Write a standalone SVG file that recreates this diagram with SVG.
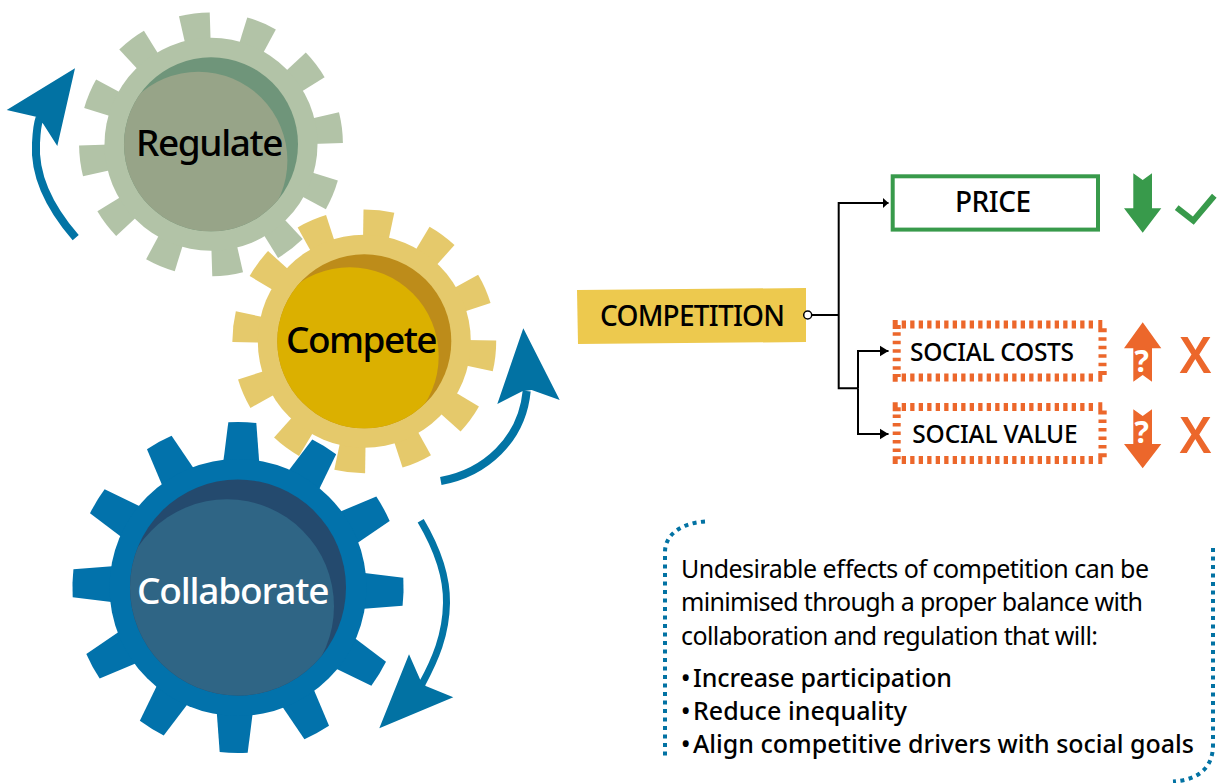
<svg xmlns="http://www.w3.org/2000/svg" xmlns:xlink="http://www.w3.org/1999/xlink" width="1217" height="783" viewBox="0 0 1217 783">
<style>
text{font-family:"Noto Sans","Open Sans","Liberation Sans",sans-serif;font-weight:500;fill:#000}
.g{font-size:37px}
.box{font-size:28px}
.soc{font-size:24.5px}
.p{font-size:25px;font-weight:400}
.b{font-size:25px;font-weight:500}
.arr{fill:none;stroke:#0274a5;stroke-width:8}
.head{fill:#0272a3}
.c{fill:none;stroke:#000;stroke-width:2}
.o{fill:#ec672b}
.dh{fill:none;stroke:#ec672b;stroke-width:8;stroke-dasharray:4.3 4.2}
.dv{fill:none;stroke:#ec672b;stroke-width:8;stroke-dasharray:3.4 5.1}
.q{font-size:30px;font-weight:700;fill:#fff}
.x{font-size:50px;font-weight:600;fill:#ec672b}
.dot{fill:none;stroke:#0272a3;stroke-width:4;stroke-dasharray:4 4.5}
</style>
<defs>
<path id="t1" d="M-12.5,-100 L-15.5,-131 A132 132 0 0 1 15.5,-131 L12.5,-100Z"/>
<path id="t2" d="M-18.5,-120 L-14,-165 A166 166 0 0 1 14,-165 L18.5,-120Z"/>
<g id="teeth1">
<use xlink:href="#t1"/><use xlink:href="#t1" transform="rotate(30)"/><use xlink:href="#t1" transform="rotate(60)"/><use xlink:href="#t1" transform="rotate(90)"/><use xlink:href="#t1" transform="rotate(120)"/><use xlink:href="#t1" transform="rotate(150)"/><use xlink:href="#t1" transform="rotate(180)"/><use xlink:href="#t1" transform="rotate(210)"/><use xlink:href="#t1" transform="rotate(240)"/><use xlink:href="#t1" transform="rotate(270)"/><use xlink:href="#t1" transform="rotate(300)"/><use xlink:href="#t1" transform="rotate(330)"/>
</g>
<g id="teeth2">
<use xlink:href="#t2"/><use xlink:href="#t2" transform="rotate(30)"/><use xlink:href="#t2" transform="rotate(60)"/><use xlink:href="#t2" transform="rotate(90)"/><use xlink:href="#t2" transform="rotate(120)"/><use xlink:href="#t2" transform="rotate(150)"/><use xlink:href="#t2" transform="rotate(180)"/><use xlink:href="#t2" transform="rotate(210)"/><use xlink:href="#t2" transform="rotate(240)"/><use xlink:href="#t2" transform="rotate(270)"/><use xlink:href="#t2" transform="rotate(300)"/><use xlink:href="#t2" transform="rotate(330)"/>
</g>
<g id="socbox">
<path class="dh" d="M901.7,324.6 H1097"/>
<path class="dh" d="M901.7,377.6 H1097"/>
<path class="dv" d="M896.7,332.3 V372"/>
<path class="dv" d="M1102.5,337.3 V368"/>
<path class="o" d="M892.7,320 h5 v5 h3 v4 h-8z"/>
<path class="o" d="M892.7,374 h8 v3 h-3 v4.7 h-5z"/>
<path class="o" d="M1098.3,320 h4 v8.3 h4.4 v4 h-8.4z"/>
<path class="o" d="M1098.3,371 h8.4 v4 h-4.4 v6.7 h-4z"/>
</g>
<clipPath id="cr"><circle cx="211" cy="144.3" r="87"/></clipPath>
<clipPath id="cc"><circle cx="364.3" cy="341.3" r="87"/></clipPath>
<clipPath id="cb"><circle cx="238" cy="587.5" r="108"/></clipPath>
<marker id="ah" markerUnits="userSpaceOnUse" markerWidth="7" markerHeight="12" refX="6" refY="6" orient="auto"><path d="M0,0.5 L6,6 L0,11.5Z" fill="#000"/></marker>
<marker id="ah2" markerUnits="userSpaceOnUse" markerWidth="10" markerHeight="12" refX="9" refY="6" orient="auto"><path d="M0,0.5 L9,6 L0,11.5Z" fill="#000"/></marker>
</defs>

<g id="regulate">
<g fill="#b2c3a7"><use xlink:href="#teeth1" transform="translate(211 144.3) rotate(-7.3)"/><circle cx="211" cy="144.3" r="106.5"/></g>
<circle cx="211" cy="144.3" r="87" fill="#6f957a"/>
<circle cx="198.4" cy="160.7" r="89" fill="#97a488" clip-path="url(#cr)"/>
<text class="g" x="136" y="156" textLength="147.5">Regulate</text>
</g>

<g id="compete">
<g fill="#e5c96b"><use xlink:href="#teeth1" transform="translate(364.3 341.3) rotate(6.4)"/><circle cx="364.3" cy="341.3" r="106.5"/></g>
<circle cx="364.3" cy="341.3" r="87" fill="#bd8c1a"/>
<circle cx="349.7" cy="356.3" r="89" fill="#dbb000" clip-path="url(#cc)"/>
<text class="g" x="286" y="353.3" textLength="151.5">Compete</text>
</g>

<g id="collaborate">
<g fill="#0272ab"><use xlink:href="#teeth2" transform="translate(238 587.5) rotate(1.5)"/><circle cx="238" cy="587.5" r="128.5"/></g>
<circle cx="238" cy="587.5" r="108" fill="#244a6e"/>
<circle cx="227" cy="606.3" r="107" fill="#2f6585" clip-path="url(#cb)"/>
<text class="g" x="137" y="603.6" textLength="192.5" style="fill:#fff">Collaborate</text>
</g>

<g id="cycle-arrows">
<path class="arr" d="M75.7,237.7 C50,208 34,175 36,143 C36.5,133 37,125 39.5,118"/>
<polygon class="head" points="75,68.3 57.3,146 43.3,124 36,116.7 6.7,110"/>
<path class="arr" d="M440.8,481 C485,473 522,440 526.7,391"/>
<polygon class="head" points="523.3,328.3 559.7,400 531.7,390 522.3,391.3 497.3,404"/>
<path class="arr" style="stroke-width:7" d="M420.7,520.7 C438,550 447,578 446.5,603 C446,635 435,660 422,684"/>
<polygon class="head" points="379.3,728.3 409,654.3 420,679.3 425.7,686 453.3,697.3"/>
</g>

<g id="connectors">
<path class="c" d="M811.7,315 H838.7 M838.7,315 V388.3 H858"/>
<path class="c" marker-end="url(#ah)" d="M838.7,315 V203 H888.5"/>
<path class="c" marker-end="url(#ah2)" d="M858,388.3 V351 H888.5"/>
<path class="c" marker-end="url(#ah2)" d="M858,388.3 V434 H888.5"/>
</g>

<g id="competition">
<polygon points="577,290 806,288 806,342 578,344" fill="#edc94e"/>
<circle cx="807.7" cy="315" r="4" fill="#fff" stroke="#000" stroke-width="1.5"/>
<text class="box" x="600" y="326" textLength="185">COMPETITION</text>
</g>

<g id="price">
<rect x="892.7" y="176.3" width="205.3" height="53.3" fill="none" stroke="#389a4b" stroke-width="4"/>
<text class="box" x="955" y="211.7" textLength="76">PRICE</text>
<polygon fill="#389a4b" points="1133.3,173.3 1142.7,180 1152,173.3 1152,208.3 1161.3,208.3 1142.7,232.7 1124,208.3 1133.3,208.3"/>
<polyline points="1176.7,207.7 1193.3,220.7 1214.3,195.7" fill="none" stroke="#389a4b" stroke-width="6"/>
</g>

<g id="social-costs">
<use xlink:href="#socbox"/>
<text class="soc" x="910" y="360.7" textLength="164">SOCIAL COSTS</text>
<polygon class="o" points="1142.7,322.3 1161.3,348.3 1152,348.3 1152,381.7 1142.7,375 1133.3,381.7 1133.3,348.3 1124,348.3"/>
<text class="q" x="1141.7" y="372.3" text-anchor="middle">?</text>
<text class="x" x="1195.5" y="372.5" text-anchor="middle">X</text>
</g>

<g id="social-value">
<use xlink:href="#socbox" transform="translate(0 82.3)"/>
<text class="soc" x="912.3" y="443.3" textLength="165.4">SOCIAL VALUE</text>
<polygon class="o" points="1133.3,409.3 1142.7,416 1152,409.3 1152,444 1161.3,444 1142.7,468.3 1124,444 1133.3,444"/>
<text class="q" x="1141.7" y="443" text-anchor="middle">?</text>
<text class="x" x="1195.5" y="452.5" text-anchor="middle">X</text>
</g>

<g id="note">
<path class="dot" d="M705,521.5 C682,523 665,534 665,552 V758"/>
<path class="dot" d="M1213,548 V745 C1213,768 1198,780 1173,781.5"/>
<text class="p" x="681" y="578" textLength="468">Undesirable effects of competition can be</text>
<text class="p" x="681" y="611" textLength="462">minimised through a proper balance with</text>
<text class="p" x="681" y="645" textLength="417">collaboration and regulation that will:</text>
<text class="b" x="681" y="687">•<tspan x="693" textLength="259">Increase participation</tspan></text>
<text class="b" x="681" y="720">•<tspan x="693" textLength="214">Reduce inequality</tspan></text>
<text class="b" x="681" y="753">•<tspan x="693" textLength="501">Align competitive drivers with social goals</tspan></text>
</g>
</svg>
